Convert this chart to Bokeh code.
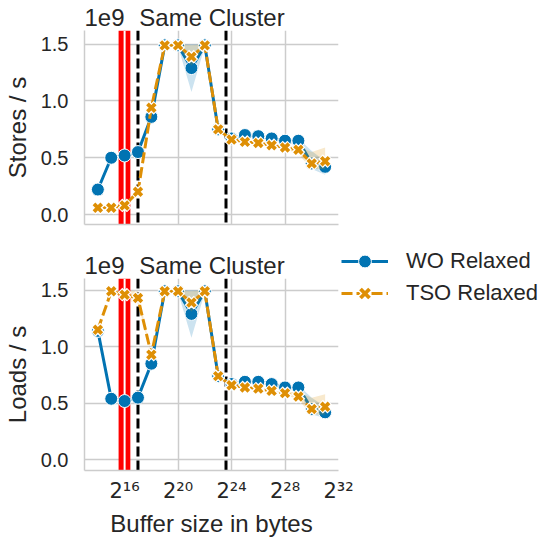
from bokeh.plotting import figure
from bokeh.models import (FixedTicker, PrintfTickFormatter, CustomJSTickFormatter, LinearAxis,
                          Legend, LegendItem, BoxAnnotation, Span, Range1d, ColumnDataSource)
from bokeh.layouts import column
from bokeh.embed import file_html
from bokeh.resources import INLINE

# ---------------- data ----------------
buffer_bytes = [16384, 32768, 65536, 131072, 262144, 524288, 1048576, 2097152, 4194304,
                8388608, 16777216, 33554432, 67108864, 134217728, 268435456, 536870912,
                1073741824, 2147483648]

# Stores / s (units of 1e9)
wo_stores = [0.22, 0.50, 0.52, 0.55, 0.86, 1.49, 1.49, 1.29, 1.49, 0.75, 0.67, 0.70, 0.69, 0.67, 0.65, 0.65, 0.45, 0.42]
wo_stores_lo = [0.22, 0.50, 0.52, 0.55, 0.86, 1.49, 1.48, 1.08, 1.48, 0.75, 0.67, 0.70, 0.69, 0.67, 0.64, 0.60, 0.40, 0.35]
wo_stores_hi = [0.22, 0.50, 0.52, 0.55, 0.86, 1.49, 1.50, 1.50, 1.50, 0.75, 0.67, 0.70, 0.69, 0.67, 0.66, 0.67, 0.56, 0.47]
tso_stores = [0.06, 0.06, 0.08, 0.20, 0.94, 1.49, 1.49, 1.39, 1.49, 0.75, 0.66, 0.64, 0.63, 0.61, 0.59, 0.57, 0.45, 0.47]
tso_stores_lo = [0.06, 0.06, 0.08, 0.20, 0.94, 1.49, 1.48, 1.31, 1.48, 0.75, 0.66, 0.64, 0.63, 0.61, 0.58, 0.53, 0.40, 0.40]
tso_stores_hi = [0.06, 0.06, 0.08, 0.20, 0.94, 1.49, 1.50, 1.49, 1.50, 0.75, 0.66, 0.64, 0.63, 0.61, 0.60, 0.60, 0.55, 0.59]

# Loads / s (units of 1e9)
wo_loads = [1.14, 0.54, 0.52, 0.55, 0.85, 1.49, 1.49, 1.29, 1.49, 0.74, 0.67, 0.69, 0.69, 0.67, 0.64, 0.64, 0.45, 0.42]
wo_loads_lo = [1.14, 0.54, 0.52, 0.55, 0.85, 1.49, 1.48, 1.08, 1.48, 0.74, 0.67, 0.69, 0.69, 0.67, 0.63, 0.60, 0.40, 0.37]
wo_loads_hi = [1.14, 0.54, 0.52, 0.55, 0.85, 1.49, 1.50, 1.50, 1.50, 0.74, 0.67, 0.69, 0.69, 0.67, 0.65, 0.66, 0.55, 0.47]
tso_loads = [1.15, 1.49, 1.46, 1.43, 0.93, 1.49, 1.49, 1.39, 1.49, 0.74, 0.66, 0.64, 0.63, 0.61, 0.59, 0.56, 0.45, 0.47]
tso_loads_lo = [1.15, 1.49, 1.42, 1.38, 0.93, 1.49, 1.48, 1.31, 1.48, 0.74, 0.66, 0.64, 0.63, 0.61, 0.58, 0.53, 0.40, 0.40]
tso_loads_hi = [1.15, 1.49, 1.50, 1.49, 0.93, 1.49, 1.50, 1.49, 1.50, 0.74, 0.66, 0.64, 0.63, 0.61, 0.60, 0.60, 0.55, 0.58]

x_tick_values = [65536, 1048576, 16777216, 268435456, 4294967296]
x_tick_labels = ["2¹⁶", "2²⁰", "2²⁴", "2²⁸", "2³²"]
y_tick_values = [0.0, 0.5, 1.0, 1.5]
red_band = (47980, 88290)
white_line = 65536
dashed_lines = [131072, 12582912]
series_names = ["WO Relaxed", "TSO Relaxed"]
panel_title = "Same Cluster"
scale_text = "1e9"

# ---------------- style ----------------
BLUE = "#0173b2"
ORANGE = "#de8f05"
TXT = "#262626"
GRID = "#cccccc"
FONT = "Liberation Sans"
FRAME_W = 254
BL, BR = 81, 194
HEAD_POS = [23170, 6090000]   # horizontal anchor of "1e9" and of the panel title


def make_panel(ylabel, wo, wo_lo, wo_hi, tso, tso_lo, tso_hi, yr, frame_h, top, bottom, last):
    p = figure(frame_width=FRAME_W, frame_height=frame_h, x_axis_type="log",
               x_range=Range1d(8192, 4294967296), y_range=Range1d(*yr),
               output_backend="svg", toolbar_location=None,
               min_border_left=BL, min_border_right=BR,
               min_border_top=top, min_border_bottom=bottom)
    p.outline_line_color = None
    p.background_fill_color = "white"
    p.border_fill_color = "white"

    # axes
    p.xaxis.ticker = FixedTicker(ticks=x_tick_values, minor_ticks=[])
    p.yaxis.ticker = FixedTicker(ticks=y_tick_values, minor_ticks=[])
    p.yaxis.formatter = PrintfTickFormatter(format="%.1f")
    for ax in (p.xaxis[0], p.yaxis[0]):
        ax.axis_line_color = GRID
        ax.axis_line_width = 1.5
        ax.major_tick_line_color = None
        ax.minor_tick_line_color = None
        ax.major_tick_out = 0
        ax.major_tick_in = 0
        ax.minor_tick_out = 0
        ax.minor_tick_in = 0
        ax.major_label_text_color = TXT
        ax.major_label_text_font = FONT
        ax.axis_label_text_color = TXT
        ax.axis_label_text_font = FONT
        ax.axis_label_text_font_style = "normal"
        ax.axis_label_text_font_size = "24px"
    p.yaxis.major_label_text_font_size = "20px"
    p.yaxis.major_label_standoff = 16
    p.yaxis.axis_label = ylabel
    p.yaxis.axis_label_standoff = 7
    if last:
        p.xaxis.major_label_overrides = dict(zip(x_tick_values, x_tick_labels))
        p.xaxis.major_label_text_font = "DejaVu Sans"
        p.xaxis.major_label_text_font_size = "21px"
        p.xaxis.major_label_standoff = 8
        p.xaxis.axis_label = "Buffer size in bytes"
        p.xaxis.axis_label_standoff = 4
    else:
        p.xaxis.formatter = CustomJSTickFormatter(code="return ''")
        p.xaxis.major_label_standoff = 0
        p.xaxis.major_label_text_font_size = "1px"

    # header line: "1e9" offset text and the panel title
    head = LinearAxis(ticker=FixedTicker(ticks=HEAD_POS, minor_ticks=[]),
                      major_label_overrides={HEAD_POS[0]: scale_text, HEAD_POS[1]: panel_title},
                      axis_line_color=None, major_tick_line_color=None,
                      minor_tick_line_color=None, major_tick_out=0, major_tick_in=0,
                      minor_tick_out=0, minor_tick_in=0, major_label_standoff=0,
                      major_label_text_font=FONT, major_label_text_font_size="24px",
                      major_label_text_color=TXT)
    p.add_layout(head, "above")

    p.xgrid.grid_line_color = GRID
    p.xgrid.grid_line_width = 1.5
    p.ygrid.grid_line_color = GRID
    p.ygrid.grid_line_width = 1.5

    # cache-size markers
    p.add_layout(BoxAnnotation(left=red_band[0], right=red_band[1], fill_color="red",
                               fill_alpha=1.0, line_color=None, level="underlay"))
    p.add_layout(Span(location=white_line, dimension="height", line_color="white",
                      line_width=2, level="underlay"))
    for loc in dashed_lines:
        p.add_layout(Span(location=loc, dimension="height", line_color="black",
                          line_width=3, line_dash="10 4", level="underlay"))

    src = ColumnDataSource(dict(x=buffer_bytes, wo=wo, wo_lo=wo_lo, wo_hi=wo_hi,
                                tso=tso, tso_lo=tso_lo, tso_hi=tso_hi))
    p.varea(x="x", y1="wo_lo", y2="wo_hi", source=src, fill_color=BLUE, fill_alpha=0.2)
    l1 = p.line("x", "wo", source=src, line_color=BLUE, line_width=3)
    c1 = p.scatter("x", "wo", source=src, marker="circle", size=13, fill_color=BLUE,
                   line_color="white", line_width=1)
    p.varea(x="x", y1="tso_lo", y2="tso_hi", source=src, fill_color=ORANGE, fill_alpha=0.2)
    l2 = p.line("x", "tso", source=src, line_color=ORANGE, line_width=3, line_dash="11 4")
    xw = p.scatter("x", "tso", source=src, marker="x", size=13, line_color="white", line_width=6.5)
    xo = p.scatter("x", "tso", source=src, marker="x", size=11, line_color=ORANGE, line_width=3.8)
    return p, (l1, c1, l2, xw, xo)


p1, _ = make_panel("Stores / s", wo_stores, wo_stores_lo, wo_stores_hi,
                   tso_stores, tso_stores_lo, tso_stores_hi,
                   (-0.088, 1.621), 194, 30, 24, False)
p2, r = make_panel("Loads / s", wo_loads, wo_loads_lo, wo_loads_hi,
                   tso_loads, tso_loads_lo, tso_loads_hi,
                   (-0.094, 1.603), 192, 26, 64, True)

l1, c1, l2, xw, xo = r
legend = Legend(items=[LegendItem(label=series_names[0], renderers=[l1, c1]),
                       LegendItem(label=series_names[1], renderers=[l2, xw, xo])],
                location=(3, 161), orientation="vertical", padding=0, margin=0,
                spacing=0, glyph_width=47, glyph_height=32, label_height=32,
                label_standoff=18, label_text_font=FONT, label_text_font_size="22px",
                label_text_color=TXT, border_line_color=None, background_fill_alpha=0)
p2.add_layout(legend, "right")

layout = column(p1, p2)
open("out.html", "w").write(file_html(layout, INLINE))
